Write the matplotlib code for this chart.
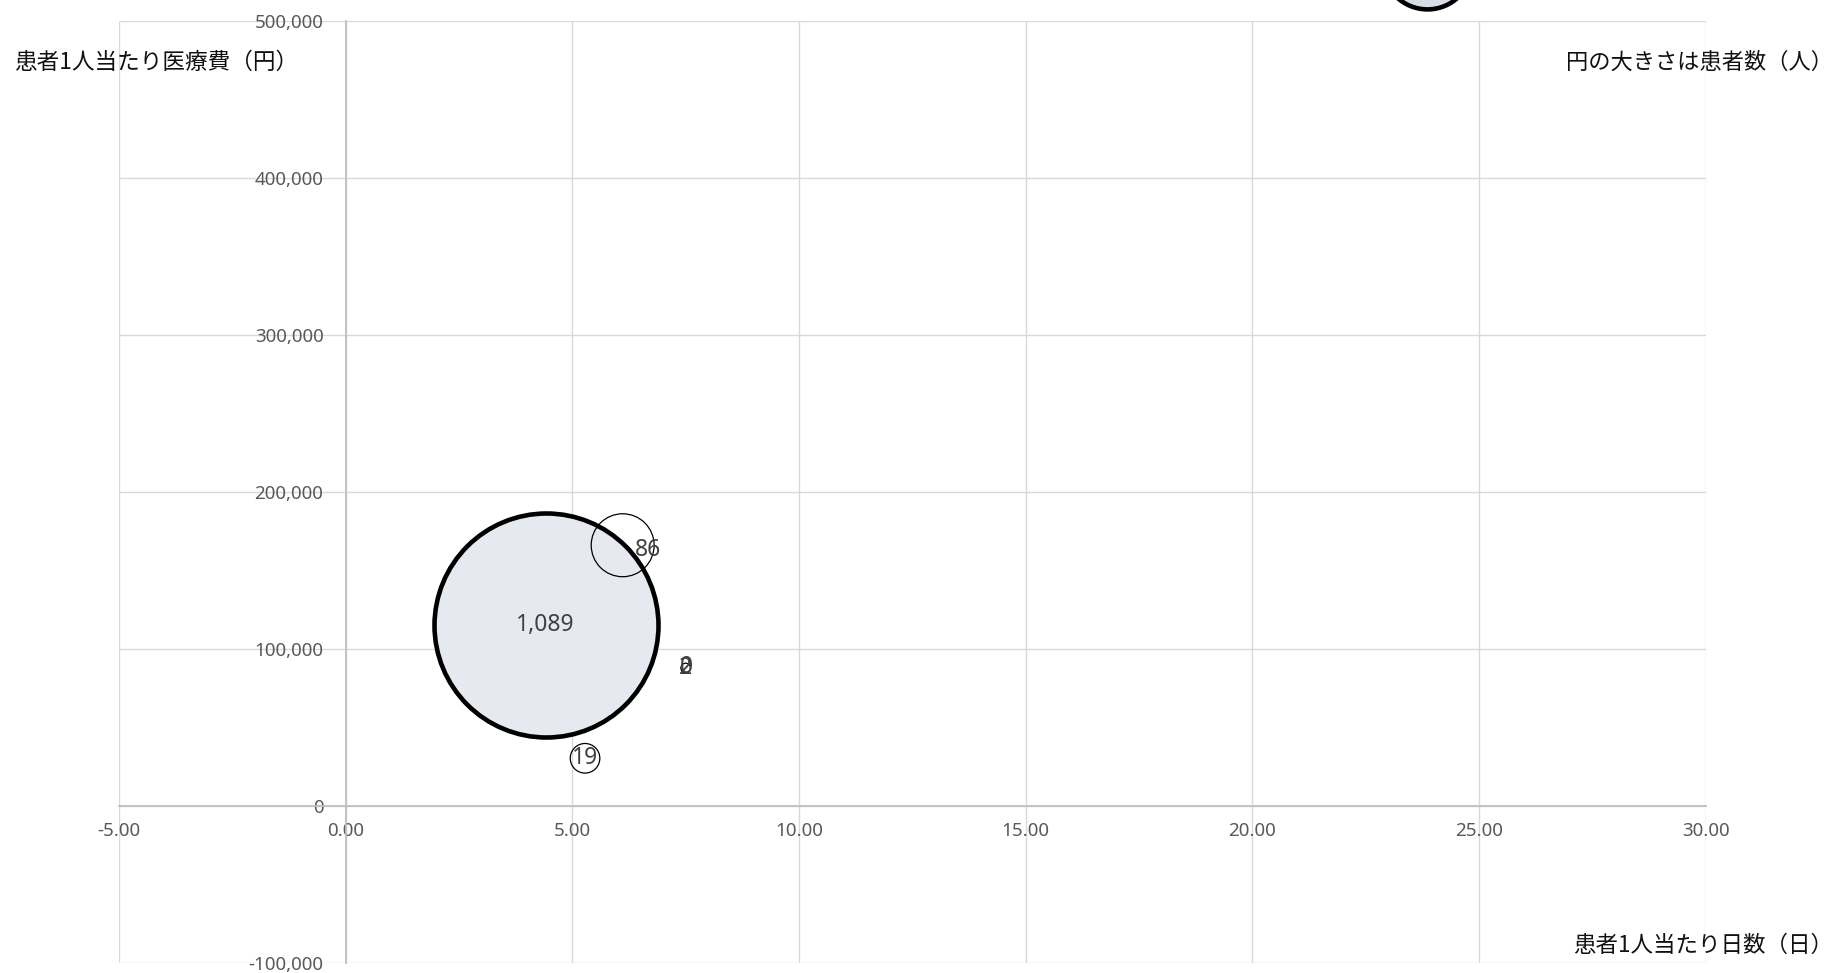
import matplotlib
matplotlib.use("Agg")
import matplotlib.pyplot as plt
import numpy as np

# ---- data ----
days = [4.41, 6.11, 5.28, 7.50, 7.50, 23.85]          # 患者1人当たり日数
cost = [115100, 165900, 30200, 87700, 87700, 536000]  # 患者1人当たり医療費
patients = [1089, 86, 19, 2, 0, 175]                   # 患者数
point_labels = ["1,089", "86", "19", "2", "0", ""]
x_ticks = [-5, 0, 5, 10, 15, 20, 25, 30]
y_ticks = [-100000, 0, 100000, 200000, 300000, 400000, 500000]

# ---- styles ----
facecolors = ["#e6e9ef", "none", "none", "none", "none", "#d6dce6"]
edgewidths = [3.3, 0.9, 0.9, 0.9, 0.9, 3.3]
label_offsets = [(0, 0), (18, -3.5), (0, 0), (0, 0), (0.5, 0.8), (0, 0)]

plt.rcParams['font.family'] = ['Noto Sans CJK JP', 'DejaVu Sans']

W, H, DPI = 1833, 973, 100
fig = plt.figure(figsize=(W / DPI, H / DPI), dpi=DPI)
left, right = 119 / W, 1705.7 / W
bottom, top = 1 - 962.7 / H, 1 - 20.7 / H
ax = fig.add_axes([left, bottom, right - left, top - bottom])

ax.set_xlim(-5, 30)
ax.set_ylim(-100000, 500000)
ax.set_xticks(x_ticks)
ax.set_yticks(y_ticks)
ax.set_xticklabels([f"{v:.2f}" for v in x_ticks])
ax.set_yticklabels([f"{v:,}" for v in y_ticks])
ax.grid(True, color="#d9d9d9", linewidth=1.0, zorder=0)
for gl in ax.get_xgridlines() + ax.get_ygridlines():
    gl.set_clip_on(False)
ax.set_axisbelow(True)

for s in ["top", "right"]:
    ax.spines[s].set_visible(False)
ax.spines["left"].set_position(("data", 0))
ax.spines["bottom"].set_position(("data", 0))
for s in ["left", "bottom"]:
    ax.spines[s].set_color("#bfbfbf")
    ax.spines[s].set_linewidth(1.3)
ax.tick_params(axis="both", length=0, colors="#595959", labelsize=13.5)
ax.tick_params(axis="y", pad=16)
ax.tick_params(axis="x", pad=12)
for lab in ax.get_xticklabels() + ax.get_yticklabels():
    lab.set_family(["Noto Sans", "DejaVu Sans"])

# bubble sizes: diameter proportional to sqrt(patients)
max_d_px = 224.0
d_pt = [max_d_px * np.sqrt(p / 1089) * 72 / DPI for p in patients]
sizes = [d ** 2 for d in d_pt]

for i in range(len(days)):
    ax.scatter([days[i]], [cost[i]], s=sizes[i], facecolors=facecolors[i],
               edgecolors="black", linewidths=edgewidths[i], zorder=3 + i,
               clip_on=False)

for i, lab in enumerate(point_labels):
    if not lab:
        continue
    ax.annotate(lab, (days[i], cost[i]), xytext=label_offsets[i],
                textcoords="offset points", ha="center", va="center",
                fontsize=16.5, color="#404040", zorder=20,
                family=["Noto Sans", "DejaVu Sans"])

txt_kw = dict(color="#111111", va="center")
fig.text(14 / W, 1 - 62 / H, "患者1人当たり医療費（円）", ha="left",
         fontsize=16.3, **txt_kw)
fig.text(1833 / W, 1 - 62 / H, "円の大きさは患者数（人）", ha="right",
         fontsize=16.0, **txt_kw)
fig.text(1833 / W, 1 - 945 / H, "患者1人当たり日数（日）", ha="right",
         fontsize=16.2, **txt_kw)

fig.savefig("out.png", dpi=DPI)
